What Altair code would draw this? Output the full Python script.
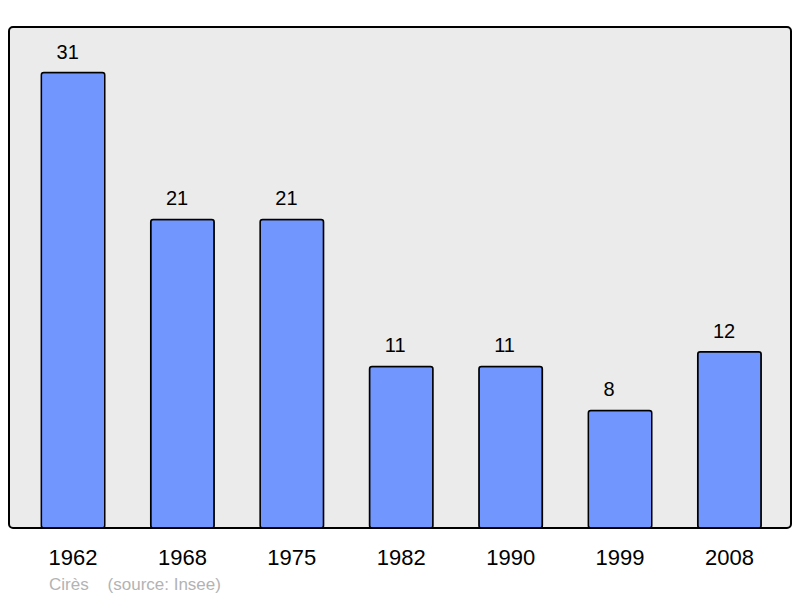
import altair as alt
import pandas as pd

years = ["1962", "1968", "1975", "1982", "1990", "1999", "2008"]
population = [31, 21, 21, 11, 11, 8, 12]

df = pd.DataFrame({"year": years, "pop": population})

x = alt.X("year:N", sort=years,
          scale=alt.Scale(paddingInner=0.42, paddingOuter=0.284, align=0.52),
          axis=alt.Axis(title=None, labelAngle=0, ticks=False, domain=False,
                        labelFontSize=22, labelColor="black", labelFont="Liberation Sans",
                        labelBaseline="alphabetic", labelPadding=36))
y = alt.Y("pop:Q", scale=alt.Scale(domain=[0, 34.1], nice=False), axis=None)

bars = alt.Chart(df).mark_bar(color="#7197ff", stroke="black", strokeWidth=1.5,
                              cornerRadius=2.5).encode(x=x, y=y)
labels = alt.Chart(df).mark_text(dy=-14, dx=-16.5, align="left", baseline="alphabetic",
                                 fontSize=20, font="Liberation Sans", color="black").encode(
    x=x, y=y, text="pop:Q")

chart = (bars + labels).properties(
    width=782, height=501,
    autosize=alt.AutoSizeParams(type="none"),
    padding={"left": 1, "top": 19, "right": 1, "bottom": 74},
    title=alt.TitleParams("Cirès\u00a0\u00a0\u00a0\u00a0(source: Insee)", orient="bottom",
                          anchor="start", frame="group", dx=40, offset=9,
                          fontSize=17, fontWeight="normal", color="#b3b3b3",
                          font="Liberation Sans"),
).configure_view(fill="#ebebeb", stroke="black", strokeWidth=2, cornerRadius=4)

chart.save("out.html", embed_options={"renderer": "svg", "actions": False})
